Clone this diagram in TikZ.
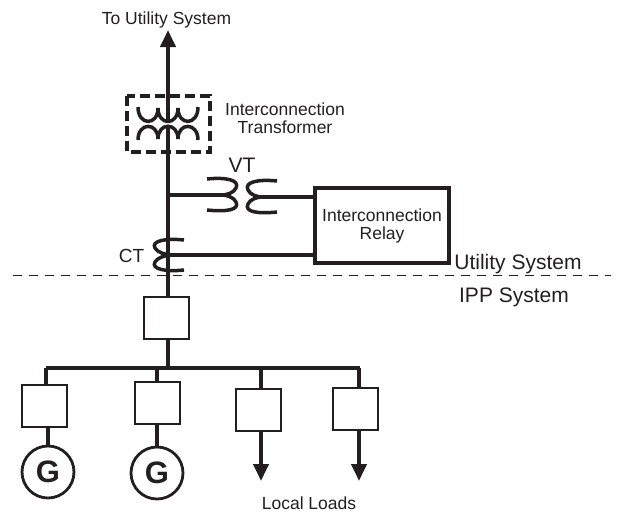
\documentclass[tikz,border=0pt]{standalone}
\usepackage{fontspec}
\setmainfont{Liberation Sans}
\usetikzlibrary{arrows.meta}
\definecolor{ink}{RGB}{35,31,32}

\begin{document}
\begin{tikzpicture}[
            x = 1pt,
            y = -1pt,
            > = {Triangle[length=17pt,width=15pt]},
            color = ink,
            text = ink,
            font = \fontsize{17.5}{18}\selectfont
        ]

        \tikzstyle{breaker}=[
            draw,
            line width = 2pt,
            fill = white,
            minimum width = 45pt,
            minimum height = 42pt,
            inner sep = 0pt
        ]
        \tikzstyle{gen}=[
            circle,
            draw,
            line width = 2.8pt,
            minimum size = 52pt,
            inner sep = 0pt,
            font = \fontsize{31}{31}\selectfont\bfseries
        ]
        \tikzstyle{line}=[line width = 4pt]
        \tikzstyle{lead}=[line width = 3.4pt]
        \tikzstyle{coil}=[line width = 3.5pt]

        \useasboundingbox (0,0) rectangle (623,512);

        % main feeder
        \coordinate (top) at (168,30);
        \coordinate (xfmrtop) at (168,121);
        \coordinate (xfmrbot) at (168,127);
        \coordinate (vtjoin) at (168,195);
        \coordinate (ctjoin) at (168,255);
        \coordinate (bus) at (168,368);
        \coordinate (busl) at (46,368);
        \coordinate (busr) at (360,368);
        \coordinate (load3) at (261,481);
        \coordinate (load4) at (359,481);

        \node[breaker] (main) at (166,317.5) {};
        \node[breaker] (brk1) at (44.5,406) {};
        \node[breaker] (brk2) at (157,403) {};
        \node[breaker] (brk3) at (258.5,409.5) {};
        \node[breaker] (brk4) at (355,408.5) {};
        \node[gen] (g1) at (48,472) {G};
        \node[gen] (g2) at (157,473) {G};
        \node[draw, line width = 3.4pt, minimum width = 134pt, minimum height = 75pt, inner sep = 0pt, align = center] (relay) at (382,225.5) {Interconnection\\Relay};

        \draw[line, ->] (xfmrtop) -- (top);
        \draw[line] (xfmrbot) -- (main.north -| xfmrbot);
        \draw[line] (main.south -| bus) -- (bus);
        \draw[line] (busl) -- (busr);

        \draw[lead] (busl) -- (busl |- brk1.north);
        \draw[lead] (brk1.south -| g1) -- (g1);
        \draw[lead] (g2 |- busl) -- (brk2.north -| g2);
        \draw[lead] (brk2.south -| g2) -- (g2);
        \draw[lead] (load3 |- busl) -- (load3 |- brk3.north);
        \draw[lead] (load4 |- busl) -- (load4 |- brk4.north);
        \draw[line, ->] (load3 |- brk3.south) -- (load3);
        \draw[line, ->] (load4 |- brk4.south) -- (load4);

        % transformer
        \draw[line width = 3.6pt, dash pattern = on 10pt off 5pt] (127,96) rectangle (210,152);
        \draw[coil] (138,107) .. controls (138,126) and (158,126) .. (158,108)
                              .. controls (158,126) and (178,126) .. (178,108)
                              .. controls (178,126) and (198,126) .. (198,107);
        \draw[coil] (138,140) .. controls (138,122) and (158,122) .. (158,139)
                              .. controls (158,122) and (178,122) .. (178,139)
                              .. controls (178,122) and (198,122) .. (198,140);

        % voltage transformer
        \coordinate (vtl) at (222,195);
        \coordinate (vtr) at (262,197);
        \draw[lead] (vtjoin) -- (vtl);
        \draw[lead] (vtr) -- (relay.west |- vtr);
        \draw[coil] (207,179) .. controls (226,177) and (240,180) .. (236,188)
                              .. controls (234,193) and (226,195) .. (222,195)
                              .. controls (226,195) and (234,197) .. (236,202)
                              .. controls (240,210) and (226,212) .. (207,210);
        \draw[coil] (277,181) .. controls (258,179) and (244,182) .. (248,190)
                              .. controls (250,195) and (258,197) .. (262,197)
                              .. controls (258,197) and (250,199) .. (248,204)
                              .. controls (244,212) and (258,214) .. (277,212);

        % current transformer
        \draw[lead] (ctjoin) -- (relay.west |- ctjoin);
        \draw[coil] (184,240) .. controls (165,238) and (151,241) .. (155,248)
                              .. controls (157,252) and (165,255) .. (172,255)
                              .. controls (165,255) and (157,258) .. (155,262)
                              .. controls (151,269) and (165,272) .. (184,270);

        % system boundary
        \coordinate (sysl) at (13,275);
        \coordinate (sysr) at (611,275);
        \draw[line width = 1pt, dash pattern = on 9pt off 7pt] (sysl) -- (sysr);

        \node (utilto) at (166.5,20) {To Utility System};
        \node[align = center] (xfmrlabel) at (285,118) {Interconnection\\Transformer};
        \node[font = \fontsize{21}{21}\selectfont] (vtlabel) at (242,165) {VT};
        \node[font = \fontsize{19}{19}\selectfont] (ctlabel) at (131.5,256) {CT};
        \node[font = \fontsize{21}{21}\selectfont] (utillabel) at (518,264) {Utility System};
        \node[font = \fontsize{21}{21}\selectfont] (ipplabel) at (514,297) {IPP System};
        \node (loadslabel) at (309,503) {Local Loads};

\end{tikzpicture}
\end{document}
